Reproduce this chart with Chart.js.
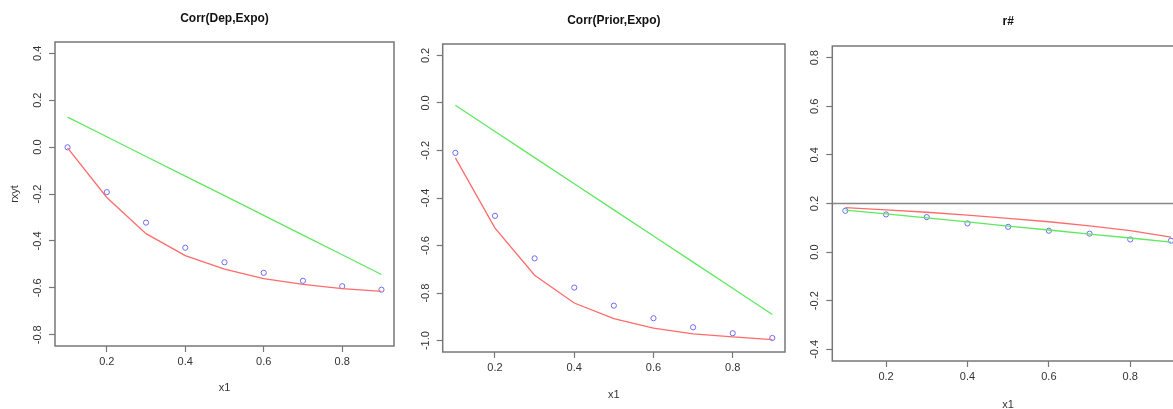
<!DOCTYPE html>
<html>
<head>
<meta charset="utf-8">
<script src="https://cdn.jsdelivr.net/npm/chart.js@4"></script>
<style>
  html, body { margin: 0; padding: 0; background: #fff; overflow: hidden; }
  body { width: 1173px; height: 409px; position: relative; }
  .panel { position: absolute; top: 0; height: 420px; }
</style>
</head>
<body>
<div class="panel" style="left:0px;width:399px"><canvas id="chart1" width="399" height="420"></canvas></div>
<div class="panel" style="left:395px;width:395px"><canvas id="chart2" width="395" height="420"></canvas></div>
<div class="panel" style="left:790px;width:400px"><canvas id="chart3" width="400" height="420"></canvas></div>
<script>
// x values shared by all three plots
const x1 = [0.1, 0.2, 0.3, 0.4, 0.5, 0.6, 0.7, 0.8, 0.9];
const xTicks = [0.2, 0.4, 0.6, 0.8];

// Corr(Dep,Expo)
const depGreen = [0.128, 0.044, -0.040, -0.124, -0.207, -0.291, -0.375, -0.459, -0.543];
const depRed = [-0.003, -0.215, -0.369, -0.463, -0.520, -0.561, -0.585, -0.603, -0.615];
const depBlue = [-0.001, -0.192, -0.322, -0.429, -0.491, -0.536, -0.570, -0.593, -0.608];
const depTicks = [-0.8, -0.6, -0.4, -0.2, 0.0, 0.2, 0.4];

// Corr(Prior,Expo)
const priorGreen = [-0.010, -0.120, -0.230, -0.340, -0.450, -0.560, -0.670, -0.780, -0.890];
const priorRed = [-0.231, -0.527, -0.725, -0.842, -0.908, -0.948, -0.972, -0.984, -0.996];
const priorBlue = [-0.210, -0.475, -0.654, -0.777, -0.853, -0.906, -0.944, -0.969, -0.989];
const priorTicks = [-1.0, -0.8, -0.6, -0.4, -0.2, 0.0, 0.2];

// r#
const rRed = [0.183, 0.174, 0.164, 0.152, 0.139, 0.125, 0.108, 0.088, 0.062];
const rGreen = [0.173, 0.157, 0.141, 0.124, 0.107, 0.091, 0.074, 0.058, 0.041];
const rBlue = [0.170, 0.155, 0.144, 0.118, 0.104, 0.088, 0.076, 0.052, 0.047];
const rTicks = [-0.4, -0.2, 0.0, 0.2, 0.4, 0.6, 0.8];
const rRefLine = 0.2;

const X_MIN = 0.068, X_MAX = 0.932;
const BOX = '#777';
const TXT = '#333';

function pts(ys) {
    return x1.map((x, i) => ({ x: x, y: ys[i] }));
}

// draws the box round the plot area, like R's box()
const boxPlugin = {
    id: 'rbox',
    afterDraw(chart) {
        const a = chart.chartArea;
        const ctx = chart.ctx;
        ctx.save();
        ctx.strokeStyle = BOX;
        ctx.lineWidth = 1.5;
        ctx.strokeRect(a.left, a.top, a.right - a.left, a.bottom - a.top);
        ctx.restore();
    }
};

function makeChart(id, cfg) {
    const datasets = [];
    if (cfg.refLine !== undefined) {
        datasets.push({
            data: [{ x: X_MIN, y: cfg.refLine }, { x: X_MAX, y: cfg.refLine }],
            borderColor: '#888', borderWidth: 1.5, pointRadius: 0, showLine: true
        });
    }
    datasets.push({
        data: pts(cfg.green), borderColor: '#5ee85e', borderWidth: 1.3,
        pointRadius: 0, showLine: true
    });
    datasets.push({
        data: pts(cfg.red), borderColor: '#ff6b6b', borderWidth: 1.3,
        pointRadius: 0, showLine: true
    });
    datasets.push({
        data: pts(cfg.blue), borderColor: '#6b6bff', backgroundColor: 'rgba(0,0,0,0)',
        borderWidth: 1, pointRadius: 2.6, showLine: false
    });

    return new Chart(document.getElementById(id).getContext('2d'), {
        type: 'scatter',
        data: { datasets: datasets },
        plugins: [boxPlugin],
        options: {
            responsive: false,
            animation: false,
            events: [],
            layout: { padding: { left: 0, right: cfg.padRight, top: 0, bottom: 0 } },
            plugins: {
                legend: { display: false },
                tooltip: { enabled: false },
                title: {
                    display: true,
                    text: cfg.title,
                    fullSize: false,
                    color: '#111',
                    font: { family: 'Liberation Sans, Arial, sans-serif', size: 12, weight: 'bold' },
                    padding: { top: cfg.titleTop, bottom: cfg.titleBottom }
                }
            },
            scales: {
                x: {
                    type: 'linear',
                    min: X_MIN,
                    max: X_MAX,
                    afterBuildTicks: (s) => { s.ticks = xTicks.map(v => ({ value: v })); },
                    afterFit: (s) => {
                        s.height = cfg.xHeight;
                        s.paddingLeft = 0; s.paddingRight = 0;
                    },
                    border: { display: false },
                    grid: { drawOnChartArea: false, tickLength: 6, tickColor: BOX, tickWidth: 1.2 },
                    ticks: {
                        maxRotation: 0, minRotation: 0, padding: 3, color: TXT,
                        font: { family: 'Liberation Sans, Arial, sans-serif', size: 11 },
                        callback: (v) => v.toFixed(1)
                    },
                    title: {
                        display: true, text: 'x1', color: TXT,
                        font: { family: 'Liberation Sans, Arial, sans-serif', size: 11 },
                        padding: { top: 0, bottom: cfg.xTitleBottom }
                    }
                },
                y: {
                    type: 'linear',
                    min: cfg.yMin,
                    max: cfg.yMax,
                    afterBuildTicks: (s) => { s.ticks = cfg.yTicks.map(v => ({ value: v })); },
                    afterFit: (s) => {
                        s.width = cfg.yWidth;
                        s.paddingTop = 0; s.paddingBottom = 0;
                    },
                    border: { display: false },
                    grid: { drawOnChartArea: false, tickLength: 6, tickColor: BOX, tickWidth: 1.2 },
                    ticks: {
                        minRotation: 90, maxRotation: 90, crossAlign: 'center', padding: 1.5,
                        color: TXT,
                        font: { family: 'Liberation Sans, Arial, sans-serif', size: 11 },
                        callback: (v) => v.toFixed(1)
                    },
                    title: {
                        display: !!cfg.yLabel, text: cfg.yLabel || '', color: TXT,
                        font: { family: 'Liberation Sans, Arial, sans-serif', size: 11 },
                        padding: { top: 8.4, bottom: 0 }
                    }
                }
            }
        }
    });
}

makeChart('chart1', {
    title: 'Corr(Dep,Expo)', yLabel: 'rxyt',
    green: depGreen, red: depRed, blue: depBlue, yTicks: depTicks,
    yMin: -0.848, yMax: 0.448,
    yWidth: 55, padRight: 1, xHeight: 74, xTitleBottom: 25.4,
    titleTop: 11.8, titleBottom: 15.8
});

makeChart('chart2', {
    title: 'Corr(Prior,Expo)',
    green: priorGreen, red: priorRed, blue: priorBlue, yTicks: priorTicks,
    yMin: -1.048, yMax: 0.248,
    yWidth: 47.7, padRight: 4.3, xHeight: 68, xTitleBottom: 18.4,
    titleTop: 13.8, titleBottom: 15.8
});

makeChart('chart3', {
    title: 'r#', refLine: rRefLine,
    green: rGreen, red: rRed, blue: rBlue, yTicks: rTicks,
    yMin: -0.448, yMax: 0.848,
    yWidth: 42.3, padRight: 6, xHeight: 59, xTitleBottom: 8.4,
    titleTop: 14.8, titleBottom: 16.8
});
</script>
</body>
</html>
